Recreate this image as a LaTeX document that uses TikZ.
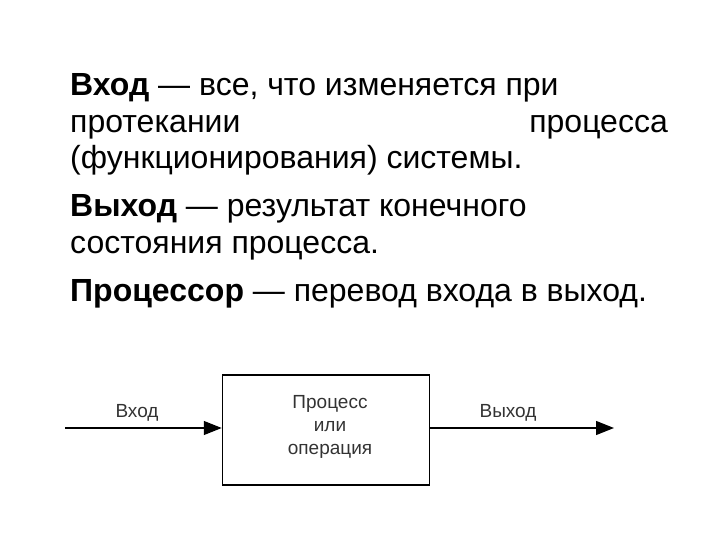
\documentclass[tikz,border=0pt]{standalone}
\usepackage{fontspec}
\setmainfont{Liberation Sans}
\usetikzlibrary{arrows.meta}
\begin{document}
\begin{tikzpicture}[x=1pt,y=-1pt,
  txt/.style={anchor=base west,inner sep=0pt,font=\fontsize{32}{36}\selectfont},
  lbl/.style={inner sep=0pt,font=\fontsize{19}{23}\selectfont,text=black!80},
  arr/.style={line width=1.3pt,-{Triangle[length=18pt,width=14pt]}}]
\useasboundingbox (0,0) rectangle (720,540);
\node[txt] (l1) at (70,96) {\textbf{Вход} — все, что изменяется при};
\node[txt] (l2) at (70,133) {протекании};
\node[txt,anchor=base east] (l2b) at (668,133) {процесса};
\node[txt] (l3) at (70,169) {(функционирования) системы.};
\node[txt] (l4) at (70,217) {\textbf{Выход} — результат конечного};
\node[txt] (l5) at (70,253) {состояния процесса.};
\node[txt] (l6) at (70,301) {\textbf{Процессор} — перевод входа в выход.};
\node[draw,line width=1.5pt,minimum width=207pt,minimum height=110pt,inner sep=0pt] (box) at (326,430) {};
\node[lbl,align=center] (bt) at (330,427) {Процесс\\или\\операция};
\coordinate (s) at (65,428);
\coordinate (e) at (614,428);
\draw[arr] (s) -- (s -| box.west);
\draw[arr] (box.east |- e) -- (e);
\node[lbl] (vin) at (137,413) {Вход};
\node[lbl] (vout) at (508,413) {Выход};
\end{tikzpicture}
\end{document}
